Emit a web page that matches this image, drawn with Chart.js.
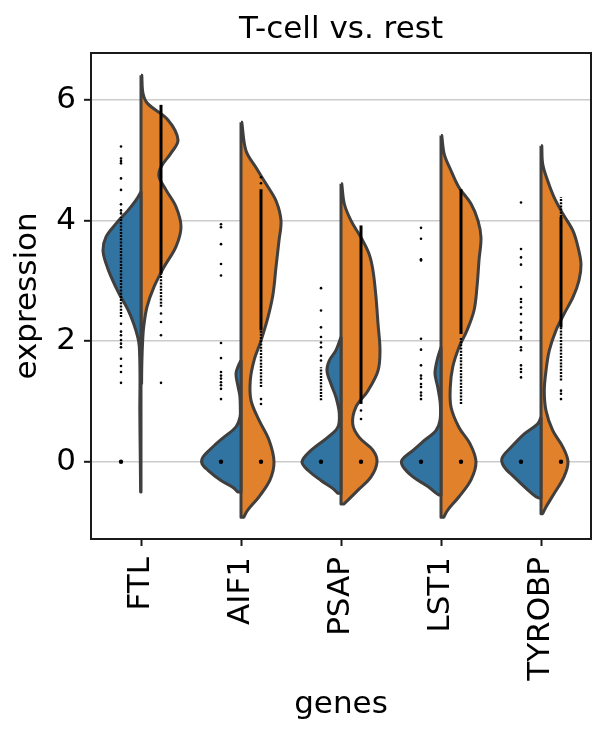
<!DOCTYPE html>
<html>
<head>
<meta charset="utf-8">
<script src="https://cdn.jsdelivr.net/npm/chart.js@4/dist/chart.umd.min.js"></script>
<style>
  html, body { margin: 0; padding: 0; background: #fff; }
</style>
</head>
<body>
<canvas id="violin" width="610" height="735"></canvas>
<script>
const genes = ["FTL", "AIF1", "PSAP", "LST1", "TYROBP"];
const yTicks = [0, 2, 4, 6];

// violin outlines: [expression, half width]
const leftFTL = [[4.48,0],[4.34,0.05],[4.17,0.13],[3.95,0.25],[3.73,0.35],[3.51,0.38],[3.29,0.35],[3.07,0.30],[2.79,0.22],[2.52,0.13],[2.29,0.073],[2.07,0.033],[1.91,0.017],[1.41,0.01],[0.86,0.012],[0.03,0.007],[-0.5,0.004]];
const rightFTL = [[6.41,0.008],[6.11,0.02],[5.94,0.067],[5.67,0.27],[5.34,0.37],[5.12,0.30],[4.89,0.2],[4.73,0.18],[4.51,0.25],[4.23,0.35],[3.90,0.40],[3.57,0.35],[3.23,0.23],[2.90,0.13],[2.57,0.06],[2.24,0.027],[2.02,0.017],[1.6,0.008],[1.3,0.006]];
const leftAIF1 = [[1.68,0],[1.58,0.03],[1.46,0.05],[1.29,0.035],[1.1,0.012],[0.9,0.007],[0.74,0.01],[0.58,0.05],[0.41,0.17],[0.25,0.28],[0.08,0.38],[-0.03,0.39],[-0.14,0.33],[-0.31,0.2],[-0.42,0.083],[-0.5,0.033]];
const rightAIF1 = [[5.63,0.008],[5.16,0.05],[4.88,0.15],[4.61,0.25],[4.33,0.35],[4.0,0.40],[3.67,0.38],[3.23,0.35],[2.78,0.32],[2.40,0.27],[2.01,0.20],[1.68,0.13],[1.35,0.093],[1.02,0.10],[0.69,0.18],[0.36,0.28],[0.0,0.33],[-0.30,0.29],[-0.58,0.18],[-0.80,0.067],[-0.92,0.027]];
const leftPSAP = [[2.07,0],[1.85,0.05],[1.68,0.117],[1.51,0.14],[1.29,0.10],[1.07,0.05],[0.80,0.017],[0.57,0.033],[0.41,0.13],[0.19,0.30],[0.0,0.39],[-0.14,0.33],[-0.31,0.2],[-0.44,0.083],[-0.52,0.033]];
const rightPSAP = [[4.61,0.008],[4.28,0.033],[4.0,0.10],[3.72,0.20],[3.45,0.28],[3.17,0.32],[2.73,0.35],[2.29,0.37],[1.85,0.39],[1.51,0.37],[1.18,0.27],[0.91,0.15],[0.63,0.117],[0.41,0.18],[0.19,0.32],[0.0,0.36],[-0.25,0.30],[-0.47,0.17],[-0.64,0.067],[-0.70,0.027]];
const leftLST1 = [[1.90,0],[1.68,0.04],[1.46,0.06],[1.24,0.033],[0.96,0.007],[0.69,0.01],[0.52,0.05],[0.35,0.17],[0.19,0.28],[0.03,0.39],[-0.08,0.38],[-0.25,0.28],[-0.41,0.13],[-0.52,0.05],[-0.55,0.02]];
const rightLST1 = [[5.41,0.008],[5.10,0.033],[4.83,0.10],[4.55,0.18],[4.28,0.30],[4.0,0.37],[3.72,0.40],[3.34,0.38],[2.90,0.36],[2.51,0.33],[2.18,0.26],[1.90,0.18],[1.57,0.117],[1.24,0.093],[0.91,0.10],[0.57,0.18],[0.30,0.29],[0.0,0.35],[-0.30,0.30],[-0.58,0.18],[-0.80,0.067],[-0.92,0.027]];
const leftTYROBP = [[0.74,0],[0.63,0.033],[0.46,0.17],[0.24,0.30],[0.06,0.39],[-0.08,0.37],[-0.25,0.27],[-0.47,0.13],[-0.58,0.05],[-0.6,0.02]];
const rightTYROBP = [[5.24,0.008],[4.94,0.017],[4.66,0.067],[4.39,0.13],[4.11,0.22],[3.83,0.32],[3.56,0.37],[3.28,0.40],[3.01,0.38],[2.73,0.32],[2.45,0.23],[2.18,0.15],[1.85,0.083],[1.51,0.05],[1.18,0.033],[0.85,0.05],[0.52,0.117],[0.24,0.22],[0.0,0.27],[-0.25,0.23],[-0.53,0.13],[-0.75,0.05],[-0.86,0.017]];

const leftShapes = [leftFTL, leftAIF1, leftPSAP, leftLST1, leftTYROBP];
const rightShapes = [rightFTL, rightAIF1, rightPSAP, rightLST1, rightTYROBP];

// single cells (sparse ones)
const leftDots = [
  [5.23,5.03,4.99,4.95,4.70,4.51,4.27,4.17,4.12,2.29,2.16,2.10,2.02,1.96,1.90,1.71,1.59,1.49,1.31,0],
  [3.94,3.89,3.61,3.28,3.09,1.97,1.72,1.49,1.43,1.38,1.32,1.27,1.21,1.04,0],
  [2.88,2.51,2.23,2.07,1.98,1.90,1.76,1.68,0],
  [3.88,3.70,3.36,3.34,2.04,1.86,1.60,1.43,1.38,1.29,1.24,1.15,1.10,1.04,0],
  [4.30,3.53,3.39,3.27,2.90,2.70,2.65,2.56,2.45,2.31,2.18,2.07,2.04,1.90,1.85,1.60,1.54,1.49,1.40,0]
];
const rightDots = [
  [2.46,2.32,2.10,1.31],
  [4.72,4.62,1.04,0.96,0],
  [0.85,0.71,0],
  [0],
  [1.18,1.13,1.04,0]
];
// packed runs of cells: [low, high]
const leftSolid = [[], [], [], [], []];
const leftDotted = [[[2.40,4.06]], [], [[1.02,1.57]], [], []];
const rightSolid = [[[3.12,5.92]], [[2.18,4.52]], [[0.96,3.92]], [[2.12,4.52]], [[2.23,4.06]]];
const rightDotted = [[[2.57,3.12]], [[1.24,2.18]], [], [[0.96,2.07]], [[1.35,2.23],[4.06,4.39]]];

const blue = "#3274a1";
const orange = "#e1812c";
const edge = "#3f3f3f";
const ink = "#1a1a1a";
const font = { family: "DejaVu Sans", size: 31, weight: "normal", lineHeight: 1.2 };

function halfShape(outline, i, side) {
  const top = outline[0][0];
  const bot = outline[outline.length - 1][0];
  const pts = [{ x: i, y: top }, { x: i, y: top }];
  outline.forEach(([y, w], k) => {
    pts.push({ x: i + side * w, y: y });
    if (k === 0 || k === outline.length - 1) pts.push({ x: i + side * w, y: y });
  });
  pts.push({ x: i, y: bot }, { x: i, y: bot }, { x: i, y: top }, { x: i, y: top });
  return pts;
}

const datasets = [];
genes.forEach((g, i) => {
  [[leftShapes[i], -1, blue], [rightShapes[i], 1, orange]].forEach(([shape, side, color]) => {
    datasets.push({
      data: halfShape(shape, i, side),
      showLine: true,
      fill: "shape",
      tension: 0.35,
      backgroundColor: color,
      borderColor: edge,
      borderWidth: 3,
      borderJoinStyle: "round",
      pointRadius: 0,
      order: 2
    });
  });

  const runs = [
    [leftSolid[i], -0.2, 3, []],
    [leftDotted[i], -0.2, 2.4, [2, 1.2]],
    [rightSolid[i], 0.2, 3, []],
    [rightDotted[i], 0.2, 2.4, [2, 1.2]]
  ];
  runs.forEach(([list, dx, width, dash]) => {
    list.forEach(([lo, hi]) => {
      datasets.push({
        data: [{ x: i + dx, y: lo }, { x: i + dx, y: hi }],
        showLine: true,
        borderColor: "#000",
        borderWidth: width,
        borderDash: dash,
        pointRadius: 0,
        order: 1
      });
    });
  });

  [[leftDots[i], -0.2], [rightDots[i], 0.2]].forEach(([vals, dx]) => {
    datasets.push({
      data: vals.map(v => ({ x: i + dx, y: v })),
      pointRadius: vals.map(v => (v === 0 ? 2.2 : 1.3)),
      pointBackgroundColor: "#000",
      pointBorderWidth: 0,
      order: 0
    });
  });
});

const frame = {
  id: "frame",
  afterDraw(chart) {
    const { ctx, chartArea: a } = chart;
    ctx.save();
    ctx.strokeStyle = ink;
    ctx.lineWidth = 2;
    ctx.strokeRect(a.left, a.top, a.right - a.left, a.bottom - a.top);
    ctx.restore();
  }
};

new Chart(document.getElementById("violin").getContext("2d"), {
  type: "scatter",
  data: { datasets },
  plugins: [frame],
  options: {
    responsive: false,
    animation: false,
    layout: { padding: { left: 0, right: 19, top: 0, bottom: 0 } },
    plugins: {
      legend: { display: false },
      tooltip: { enabled: false }
    },
    scales: {
      x: {
        type: "linear",
        min: -0.5,
        max: 4.5,
        afterBuildTicks: a => { a.ticks = genes.map((g, i) => ({ value: i })); },
        afterFit: s => { s.height = 196; },
        grid: { drawOnChartArea: false, tickLength: 7, tickWidth: 2, tickColor: ink },
        border: { color: ink, width: 2 },
        ticks: {
          autoSkip: false,
          minRotation: 90,
          maxRotation: 90,
          padding: 11,
          color: "#000",
          font: font,
          callback: v => genes[v]
        },
        title: { display: true, text: "genes", color: "#000", font: font, padding: { top: 0, bottom: 11.4 } }
      },
      x2: {
        type: "linear",
        position: "top",
        min: -0.5,
        max: 4.5,
        afterFit: s => { s.height = 53; },
        grid: { display: false },
        border: { display: false },
        ticks: { display: false },
        title: { display: true, text: "T-cell vs. rest", color: "#000", font: font, padding: { top: 11.4, bottom: 0 } }
      },
      y: {
        min: -1.28,
        max: 6.78,
        z: 1,
        afterBuildTicks: a => { a.ticks = yTicks.map(v => ({ value: v })); },
        afterFit: s => { s.width = 91; },
        grid: { color: "#cccccc", lineWidth: 1.6, tickLength: 7, tickWidth: 2, tickColor: ink },
        border: { color: ink, width: 2 },
        ticks: { padding: 8, color: "#000", font: font },
        title: { display: true, text: "expression", color: "#000", font: font, padding: { top: 9.5, bottom: 0 } }
      }
    }
  }
});
</script>
</body>
</html>
